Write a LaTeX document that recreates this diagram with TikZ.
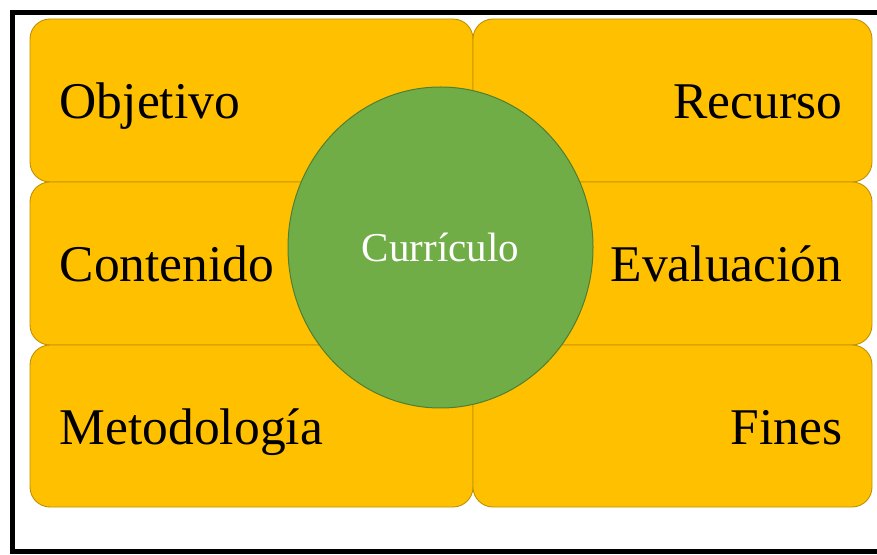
\documentclass[tikz,border=0pt]{standalone}
\usepackage{fontspec}
\setmainfont{Liberation Serif}
\usetikzlibrary{shapes.geometric}
\definecolor{myGold}{HTML}{FFC000}
\definecolor{myGoldRand}{HTML}{BF9000}
\definecolor{myGreen}{HTML}{70AD47}
\definecolor{myGreenRand}{HTML}{507E32}

\begin{document}
\begin{tikzpicture}[x=1pt,y=1pt]
	\tikzset{Feld/.style = {draw=myGoldRand, fill=myGold, line width=0.9pt, rounded corners=20pt, inner sep=0pt, minimum height=163pt}}
	\tikzset{FeldL/.style = {Feld, minimum width=443pt}}
	\tikzset{FeldR/.style = {Feld, minimum width=399pt}}
	\tikzset{Text/.style = {inner sep=0pt, font=\fontsize{51.5}{60}\selectfont}}
	\useasboundingbox (0,0) rectangle (877,554);
	
	% Rahmen
	\coordinate (ro) at (900,541.5);
	\coordinate (lo) at (12.5,541.5);
	\coordinate (lu) at (12.5,2.5);
	\coordinate (ru) at (900,2.5);
	\draw[line width=5pt] (ro) -- (lo) -- (lu) -- (ru);
	
	% Felder
	\node[FeldL] (obj) at (251.5,453.5) {};
	\node[FeldL] (con) at (251.5,290.5) {};
	\node[FeldL, minimum height=162pt] (met) at (251.5,128) {};
	\node[FeldR] (rec) at (672.5,453.5) {};
	\node[FeldR] (eva) at (672.5,290.5) {};
	\node[FeldR, minimum height=162pt] (fin) at (672.5,128) {};
	
	% Beschriftung
	\node[Text, anchor=base west] (tobj) at ([xshift=30pt,yshift=-18pt]obj.west) {Objetivo};
	\node[Text, anchor=base west] (tcon) at ([xshift=30pt,yshift=-18pt]con.west) {Contenido};
	\node[Text, anchor=base west] (tmet) at ([xshift=30pt,yshift=-18pt]met.west) {Metodología};
	\node[Text, anchor=base east] (trec) at ([xshift=-30pt,yshift=-18pt]rec.east) {Recurso};
	\node[Text, anchor=base east] (teva) at ([xshift=-30pt,yshift=-18pt]eva.east) {Evaluación};
	\node[Text, anchor=base east] (tfin) at ([xshift=-30pt,yshift=-18pt]fin.east) {Fines};
	
	% Kreis
	\node[ellipse, draw=myGreenRand, fill=myGreen, line width=1pt, inner sep=0pt,
		minimum width=305pt, minimum height=321pt, text=white,
		font=\fontsize{41}{48}\selectfont] (cur) at (440.5,306.5) {Currículo};
	
\end{tikzpicture}
\end{document}
